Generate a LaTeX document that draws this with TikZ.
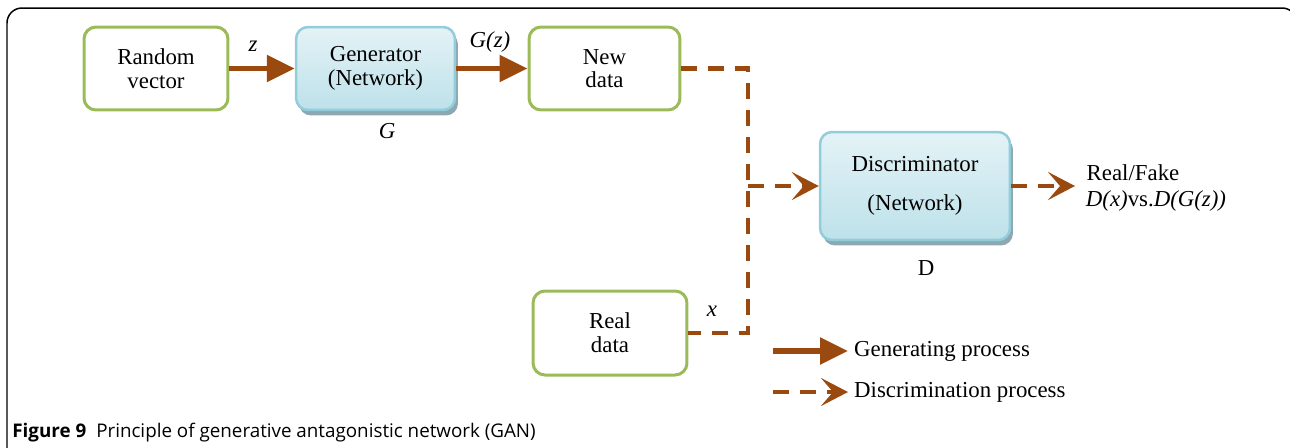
\documentclass[tikz,border=0pt]{standalone}
\usepackage{fontspec}
\setmainfont{Liberation Serif}
\newfontfamily\capfont{Open Sans}
\usetikzlibrary{arrows.meta,shadows}

\definecolor{boxgreen}{HTML}{9BBB59}
\definecolor{boxblue}{HTML}{92CDDC}
\definecolor{arrowbrown}{HTML}{9A4A0E}
\definecolor{shadowgray}{HTML}{8EA8B2}

\begin{document}
\begin{tikzpicture}[x=0.02cm,y=-0.02cm,
	databox/.style={draw=boxgreen,line width=0.06cm,rounded corners=0.24cm,fill=white,
		minimum height=1.66cm,align=center,font=\fontsize{13}{13.5}\selectfont},
	netbox/.style={draw=boxblue,line width=0.05cm,rounded corners=0.24cm,
		top color=boxblue!25,bottom color=boxblue!60,
		drop shadow={shadow xshift=0.06cm,shadow yshift=-0.11cm,fill=shadowgray,opacity=1},
		align=center,font=\fontsize{13}{13.5}\selectfont},
	genline/.style={draw=arrowbrown,line width=0.11cm,
		-{Triangle[length=0.56cm,width=0.52cm]}},
	discline/.style={draw=arrowbrown,line width=0.095cm,dash pattern=on 0.32cm off 0.22cm},
	discarrow/.style={discline,-{Stealth[length=0.54cm,width=0.56cm,inset=0.24cm]}},
	lbl/.style={font=\fontsize{13}{13}\selectfont}]
	
	\useasboundingbox (0,0) rectangle (1290,447);
	\clip (0,0) rectangle (1290,447);
	
	% Frame
	\draw[line width=0.03cm,rounded corners=0.3cm] (7,480) -- (7,8) -- (1297,8) -- (1297,480);
	
	% Boxes
	\node[databox,minimum width=2.88cm] (rv) at (156,68.5) {Random\\vector};
	\node[netbox,minimum width=3.18cm,minimum height=1.66cm] (gen) at (375.5,68.5) {Generator\\(Network)};
	\node[databox,minimum width=3.02cm] (new) at (604.5,68.5) {New\\data};
	\node[netbox,minimum width=3.8cm,minimum height=2.16cm] (disc) at (915,186) {Discriminator\\[0.3cm](Network)};
	\node[databox,minimum width=3.08cm,minimum height=1.68cm] (real) at (610,333) {Real\\data};
	
	% Labels
	\node[lbl] (z) at (253,46) {\textit{z}};
	\node[lbl] (gz) at (490,42) {\textit{G(z)}};
	\node[lbl] (glbl) at (387,131) {\textit{G}};
	\node[lbl] (dlbl) at (926,268) {D};
	\node[lbl] (xlbl) at (712,311) {\textit{x}};
	\node[lbl] (rf) at (1133,173) {Real/Fake};
	\node[lbl] (dd) at (1156,201) {\textit{D(x)}vs.\textit{D(G(z))}};
	
	% Connectors
	\coordinate (bus) at (748,0);
	\coordinate (out) at (1075,186);
	\draw[genline] (rv) -- (gen);
	\draw[genline] (gen) -- (new);
	\draw[discline] (new.east) -| (bus |- real.east) -- (real.east);
	\draw[discarrow] (bus |- disc.west) -- (disc.west);
	\draw[discarrow] (disc.east) -- (out);
	
	% Legend
	\node[lbl,anchor=west] (leggen) at (848,351) {Generating process};
	\node[lbl,anchor=west] (legdisc) at (848,392) {Discrimination process};
	\coordinate (lg1) at (773,351);
	\coordinate (lg2) at (773,392);
	\draw[genline] (lg1) -- (leggen.west);
	\draw[discarrow] (lg2) -- (legdisc.west);
	
	% Caption
	\node[anchor=base west,inner sep=0pt,font=\capfont\fontsize{10.7}{12}\selectfont] (cap) at (12,437)
		{\textbf{Figure 9}\hspace{0.2cm}Principle of generative antagonistic network (GAN)};
\end{tikzpicture}
\end{document}
